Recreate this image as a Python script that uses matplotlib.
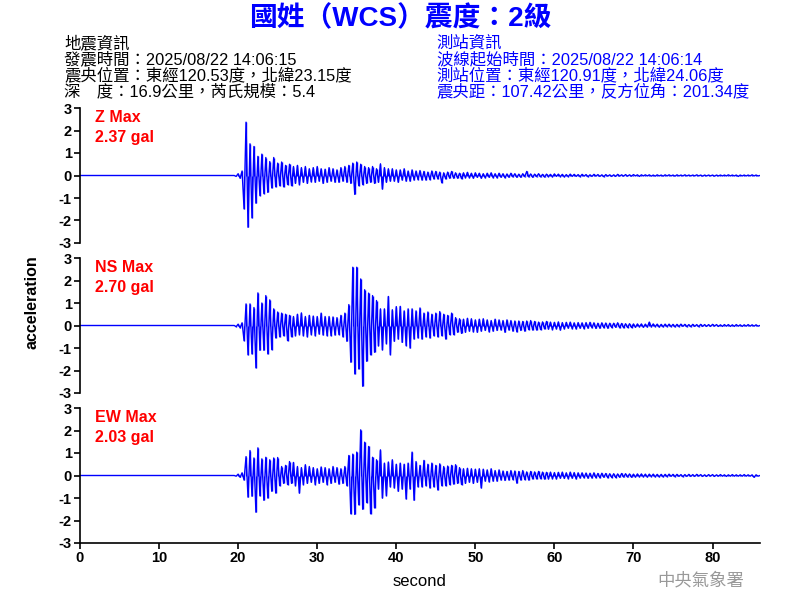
"""
Seismogram of station WCS (國姓), three components Z / NS / EW.
Values read from the CWA waveform picture, one sample every 0.25 s after the onset.
"""

import numpy as np
import matplotlib
matplotlib.use("Agg")
import matplotlib.pyplot as plt

plt.rcParams['font.family'] = ['Liberation Sans', 'Noto Sans CJK TC', 'DejaVu Sans']
plt.rcParams['font.weight'] = 'bold'
plt.rcParams['axes.unicode_minus'] = False

BLUE = '#0000ff'

# waveform samples start at 19.5 s, 0.25 s apart (before that the trace is flat at 0)
start_sec = 19.5
step_sec = 0.25

z_wave = [
    0.00, -0.04, 0.08, -0.12, 0.20, -1.48, 2.37, -2.30,
    1.41, -1.88, 1.29, -1.23, 0.85, -0.89, 0.95, -0.80,
    0.80, -0.75, 0.62, -0.55, 0.80, -0.50, 0.55, -0.45,
    0.60, -0.50, 0.45, -0.40, 0.50, -0.45, 0.40, -0.35,
    0.45, -0.40, 0.35, -0.30, 0.40, -0.35, 0.30, -0.28,
    0.35, -0.30, 0.40, -0.25, 0.30, -0.35, 0.28, -0.30,
    0.35, -0.25, 0.30, -0.30, 0.25, -0.30, 0.35, -0.25,
    0.40, -0.30, 0.45, -0.35, 0.55, -0.84, 0.60, -0.45,
    0.50, -0.40, 0.40, -0.35, 0.35, -0.30, 0.40, -0.35,
    0.30, -0.30, 0.52, -0.60, 0.35, -0.30, 0.30, -0.25,
    0.30, -0.25, 0.25, -0.30, 0.25, -0.20, 0.30, -0.25,
    0.20, -0.25, 0.25, -0.20, 0.20, -0.18, 0.22, -0.20,
    0.18, -0.20, 0.15, -0.18, 0.20, -0.15, 0.18, -0.15,
    0.15, -0.32, 0.12, -0.15, 0.15, -0.12, 0.18, -0.12,
    0.12, -0.12, 0.10, -0.14, 0.12, -0.10, 0.14, -0.10,
    0.10, -0.12, 0.12, -0.08, 0.10, -0.12, 0.08, -0.10,
    0.10, -0.08, 0.12, -0.10, 0.08, -0.10, 0.10, -0.08,
    0.08, -0.10, 0.07, -0.08, 0.10, -0.06, 0.08, -0.08,
    0.06, -0.08, 0.08, -0.05, 0.18, -0.06, 0.07, -0.08,
    0.06, -0.05, 0.08, -0.06, 0.05, -0.07, 0.06, -0.05,
    0.05, -0.06, 0.07, -0.04, 0.06, -0.05, 0.05, -0.06,
    0.04, -0.05, 0.06, -0.04, 0.05, -0.04, 0.04, -0.05,
    0.05, -0.03, 0.04, -0.05, 0.03, -0.04, 0.05, -0.03,
    0.04, -0.04, 0.03, -0.05, 0.04, -0.03, 0.03, -0.04,
    0.03, -0.04, 0.05, -0.03, 0.03, -0.03, 0.04, -0.03,
    0.03, -0.03, 0.04, -0.02, 0.03, -0.04, 0.03, -0.02,
    0.03, -0.02, 0.03, -0.03, 0.02, -0.03, 0.03, -0.02,
    0.02, -0.03, 0.03, -0.02, 0.03, -0.02, 0.02, -0.03,
    0.03, -0.02, 0.02, -0.02, 0.03, -0.02, 0.02, -0.02,
    0.02, -0.02, 0.03, -0.02, 0.02, -0.03, 0.02, -0.02,
    0.02, -0.02, 0.02, -0.03, 0.02, -0.02, 0.02, -0.02,
    0.02, -0.02, 0.03, -0.02, 0.02, -0.02, 0.02, -0.04,
    0.02, -0.02, 0.02, -0.02, 0.02, -0.02, 0.03, -0.02,
    0.02, -0.02, 0.00,
]

ns_wave = [
    0.00, -0.05, 0.06, -0.10, 0.12, -0.67, 0.96, -1.30,
    0.96, -1.26, 0.80, -1.88, 1.45, -1.10, 1.00, -1.10,
    1.33, -1.26, 1.14, -1.07, 0.74, -0.55, 0.60, -0.50,
    0.55, -0.45, 0.50, -0.67, 0.45, -0.50, 0.40, -0.45,
    0.50, -0.40, 0.56, -0.45, 0.40, -0.50, 0.45, -0.40,
    0.42, -0.45, 0.40, -0.38, 0.55, -0.42, 0.40, -0.45,
    0.40, -0.45, 0.38, -0.42, 0.35, -0.40, 0.45, -0.50,
    0.55, -0.70, 0.93, -1.63, 2.59, -2.15, 2.59, -1.93,
    2.07, -2.70, 1.59, -1.59, 1.44, -1.30, 1.33, -1.19,
    1.11, -0.90, 0.74, -1.08, 0.74, -0.80, 1.29, -1.29,
    0.70, -0.70, 0.84, -0.60, 0.85, -0.75, 0.65, -0.89,
    0.74, -1.00, 0.74, -0.60, 0.65, -0.55, 0.78, -0.60,
    0.55, -0.50, 0.60, -0.55, 0.50, -0.45, 0.55, -0.50,
    0.62, -0.45, 0.50, -0.60, 0.45, -0.40, 0.55, -0.40,
    0.35, -0.30, 0.30, -0.35, 0.28, -0.30, 0.32, -0.25,
    0.30, -0.28, 0.25, -0.30, 0.28, -0.25, 0.30, -0.22,
    0.25, -0.28, 0.22, -0.25, 0.28, -0.22, 0.25, -0.20,
    0.22, -0.30, 0.25, -0.20, 0.22, -0.25, 0.20, -0.28,
    0.20, -0.22, 0.18, -0.25, 0.20, -0.18, 0.22, -0.20,
    0.18, -0.20, 0.15, -0.18, 0.16, -0.15, 0.18, -0.16,
    0.15, -0.18, 0.14, -0.15, 0.16, -0.20, 0.13, -0.15,
    0.14, -0.12, 0.15, -0.14, 0.12, -0.15, 0.13, -0.12,
    0.12, -0.14, 0.13, -0.12, 0.14, -0.10, 0.12, -0.13,
    0.10, -0.12, 0.12, -0.10, 0.11, -0.12, 0.10, -0.09,
    0.10, -0.08, 0.12, -0.10, 0.09, -0.10, 0.08, -0.09,
    0.08, -0.09, 0.07, -0.08, 0.07, -0.06, 0.07, -0.08,
    0.06, -0.07, 0.15, -0.06, 0.07, -0.05, 0.06, -0.07,
    0.05, -0.06, 0.06, -0.05, 0.06, -0.05, 0.05, -0.06,
    0.05, -0.05, 0.06, -0.04, 0.05, -0.05, 0.04, -0.05,
    0.05, -0.04, 0.04, -0.05, 0.05, -0.04, 0.04, -0.04,
    0.04, -0.04, 0.05, -0.03, 0.04, -0.04, 0.03, -0.04,
    0.04, -0.03, 0.04, -0.04, 0.03, -0.04, 0.04, -0.03,
    0.03, -0.04, 0.03, -0.03, 0.04, -0.03, 0.03, -0.03,
    0.03, -0.03, 0.00,
]

ew_wave = [
    0.00, -0.03, 0.06, -0.08, 0.12, -0.20, 0.84, -0.96,
    1.11, -0.92, 0.78, -1.63, 1.23, -0.90, 0.74, -1.10,
    0.81, -1.00, 0.70, -0.70, 0.78, -0.78, 0.80, -0.45,
    0.40, -0.35, 0.45, -0.40, 0.62, -0.35, 0.58, -0.45,
    0.40, -0.78, 0.35, -0.40, 0.48, -0.35, 0.40, -0.30,
    0.35, -0.40, 0.30, -0.35, 0.38, -0.30, 0.35, -0.40,
    0.30, -0.35, 0.40, -0.30, 0.35, -0.38, 0.30, -0.35,
    0.40, -0.45, 0.89, -1.70, 0.95, -1.73, 1.04, -1.30,
    2.03, -1.50, 1.48, -1.20, 1.29, -1.70, 0.81, -1.44,
    0.70, -0.60, 1.14, -1.00, 0.55, -0.89, 0.60, -0.50,
    0.70, -0.55, 0.50, -0.70, 0.55, -0.60, 0.50, -1.04,
    0.55, -0.60, 1.04, -1.10, 0.62, -0.50, 0.45, -0.50,
    0.67, -0.45, 0.50, -0.55, 0.55, -0.50, 0.45, -0.64,
    0.52, -0.45, 0.40, -0.45, 0.42, -0.40, 0.45, -0.38,
    0.48, -0.35, 0.35, -0.40, 0.30, -0.35, 0.32, -0.30,
    0.30, -0.35, 0.28, -0.30, 0.30, -0.55, 0.28, -0.25,
    0.25, -0.28, 0.30, -0.25, 0.22, -0.25, 0.25, -0.20,
    0.20, -0.22, 0.18, -0.20, 0.22, -0.18, 0.20, -0.34,
    0.18, -0.20, 0.22, -0.18, 0.16, -0.20, 0.18, -0.15,
    0.16, -0.15, 0.18, -0.14, 0.15, -0.16, 0.14, -0.15,
    0.15, -0.14, 0.13, -0.15, 0.14, -0.12, 0.15, -0.13,
    0.12, -0.14, 0.15, -0.12, 0.13, -0.15, 0.12, -0.11,
    0.12, -0.10, 0.11, -0.12, 0.10, -0.11, 0.12, -0.10,
    0.09, -0.10, 0.10, -0.08, 0.09, -0.10, 0.08, -0.09,
    0.08, -0.09, 0.07, -0.08, 0.09, -0.07, 0.08, -0.07,
    0.07, -0.08, 0.06, -0.07, 0.07, -0.06, 0.07, -0.06,
    0.06, -0.07, 0.06, -0.05, 0.06, -0.06, 0.05, -0.06,
    0.05, -0.06, 0.05, -0.05, 0.06, -0.04, 0.05, -0.05,
    0.05, -0.04, 0.04, -0.05, 0.04, -0.04, 0.05, -0.04,
    0.04, -0.04, 0.05, -0.03, 0.04, -0.04, 0.03, -0.04,
    0.04, -0.03, 0.04, -0.04, 0.03, -0.03, 0.04, -0.03,
    0.03, -0.04, 0.03, -0.03, 0.04, -0.03, 0.03, -0.03,
    0.03, -0.03, 0.04, -0.03, 0.03, -0.03, 0.03, -0.08,
    0.03, -0.03, 0.00,
]

components = ['Z', 'NS', 'EW']
max_gal = [2.37, 2.70, 2.03]
waves = [z_wave, ns_wave, ew_wave]

title = '國姓（WCS）震度：2級'
quake_info = ['地震資訊',
              '發震時間：2025/08/22 14:06:15',
              '震央位置：東經120.53度，北緯23.15度',
              '深　度：16.9公里，芮氏規模：5.4']
station_info = ['測站資訊',
                '波線起始時間：2025/08/22 14:06:14',
                '測站位置：東經120.91度，北緯24.06度',
                '震央距：107.42公里，反方位角：201.34度']

fig = plt.figure(figsize=(8, 6), dpi=100)

fig.text(0.5, 0.968, title, ha='center', va='center', fontsize=20,
         color=BLUE, fontweight='bold')
for i, (left, right) in enumerate(zip(quake_info, station_info)):
    y = 0.928 - i * 0.0267
    fig.text(0.08, y, left, ha='left', va='center', fontsize=11.8,
             color='black', fontweight='medium')
    fig.text(0.546, y, right, ha='left', va='center', fontsize=11.8,
             color=BLUE, fontweight='medium')

bottoms = [0.595, 0.345, 0.095]
for k, (comp, peak, wave) in enumerate(zip(components, max_gal, waves)):
    ax = fig.add_axes([0.1, bottoms[k], 0.85, 0.225])
    t = np.concatenate([[0.0], start_sec + step_sec * np.arange(len(wave))])
    acc = np.concatenate([[0.0], wave])
    ax.plot(t, acc, color=BLUE, lw=1.0)
    ax.vlines(t, 0, acc, color=BLUE, lw=1.0)

    ax.set_xlim(0, 86)
    ax.set_ylim(-3, 3)
    ax.set_yticks(range(-3, 4))
    ax.spines['top'].set_visible(False)
    ax.spines['right'].set_visible(False)
    ax.spines['left'].set_linewidth(1.2)
    ax.tick_params(axis='both', direction='out', length=4, width=1.2,
                   labelsize=10.5, pad=2)
    if k < 2:
        ax.spines['bottom'].set_visible(False)
        ax.set_xticks([])
    else:
        ax.spines['bottom'].set_linewidth(1.2)
        ax.set_xticks(range(0, 81, 10))
        ax.set_xlabel('second', fontsize=12, labelpad=6)

    ax.text(0.022, 0.933, f'{comp} Max', transform=ax.transAxes, color='red',
            fontsize=11.5, ha='left', va='center')
    ax.text(0.022, 0.785, f'{peak:.2f} gal', transform=ax.transAxes, color='red',
            fontsize=11.5, ha='left', va='center')

fig.text(0.04, 0.497, 'acceleration', rotation=90, ha='center', va='center',
         fontsize=11.5)
fig.text(0.876, 0.033, '中央氣象署', ha='center', va='center', fontsize=12.5,
         color='#999999', fontweight='normal')

plt.savefig('out.png', dpi=100)
